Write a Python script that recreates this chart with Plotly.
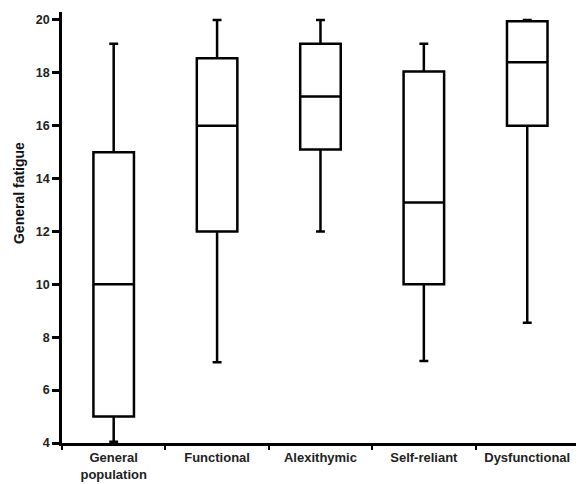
import plotly.graph_objects as go

categories = ["General<br>population", "Functional", "Alexithymic", "Self-reliant", "Dysfunctional"]
upper_whisker = [19.1, 20.0, 20.0, 19.1, 20.0]
q3_values = [15.0, 18.55, 19.1, 18.05, 19.95]
median_values = [10.0, 16.0, 17.1, 13.1, 18.4]
q1_values = [5.0, 12.0, 15.1, 10.0, 16.0]
lower_whisker = [4.05, 7.05, 12.0, 7.1, 8.55]
y_ticks = [4, 6, 8, 10, 12, 14, 16, 18, 20]
boundaries = [-0.5, 0.5, 1.5, 2.5, 3.5, 4.5]
y_title = "General fatigue"

FONT = "Liberation Sans, Arial, sans-serif"

fig = go.Figure()
fig.add_trace(go.Box(
    x=categories,
    q1=q1_values,
    median=median_values,
    q3=q3_values,
    lowerfence=lower_whisker,
    upperfence=upper_whisker,
    fillcolor="white",
    line=dict(color="black", width=2.5),
    whiskerwidth=0.22,
    boxpoints=False,
    hoverinfo="skip",
    showlegend=False,
))

# page body has an 8px default margin, so the figure is sized to fit the window
fig.update_layout(
    width=576, height=476,
    margin=dict(l=54, r=3, t=4, b=41),
    paper_bgcolor="white", plot_bgcolor="white",
    boxgap=0.44,
    showlegend=False,
    xaxis=dict(
        type="category", categoryorder="array", categoryarray=categories,
        range=[-0.5, 4.52], automargin=False,
        showline=True, linecolor="black", linewidth=2.5,
        ticks="outside", tickson="boundaries", ticklen=4, tickwidth=2, tickcolor="black",
        ticklabelstandoff=1,
        tickfont=dict(family=FONT, size=13, color="#222", weight="bold"),
        showgrid=False, zeroline=False,
    ),
    xaxis2=dict(
        overlaying="x", anchor="y", type="linear", range=[-0.5, 4.52],
        tickmode="array", tickvals=boundaries, ticks="inside", ticklen=3, tickwidth=2, tickcolor="black",
        showticklabels=False, showline=False, showgrid=False, zeroline=False,
    ),
    yaxis=dict(
        range=[4, 20.3], automargin=False,
        tickmode="array", tickvals=y_ticks,
        showline=True, linecolor="black", linewidth=2.5,
        ticks="outside", ticklen=7, tickwidth=2.5, tickcolor="black",
        tickfont=dict(family=FONT, size=12.5, color="#222", weight="bold"),
        showgrid=False, zeroline=False,
    ),
    yaxis2=dict(
        overlaying="y", anchor="x", side="left", range=[4, 20.3],
        tickmode="array", tickvals=y_ticks, ticks="inside", ticklen=7, tickwidth=2.5, tickcolor="black",
        showticklabels=False, showline=False, showgrid=False, zeroline=False,
    ),
    annotations=[dict(
        text=y_title, textangle=-90, showarrow=False,
        xref="paper", yref="paper", x=0, y=0.58,
        xanchor="center", yanchor="middle", xshift=-43,
        font=dict(family=FONT, size=14, color="#111", weight="bold"),
    )],
)

fig.write_html("out.html")
